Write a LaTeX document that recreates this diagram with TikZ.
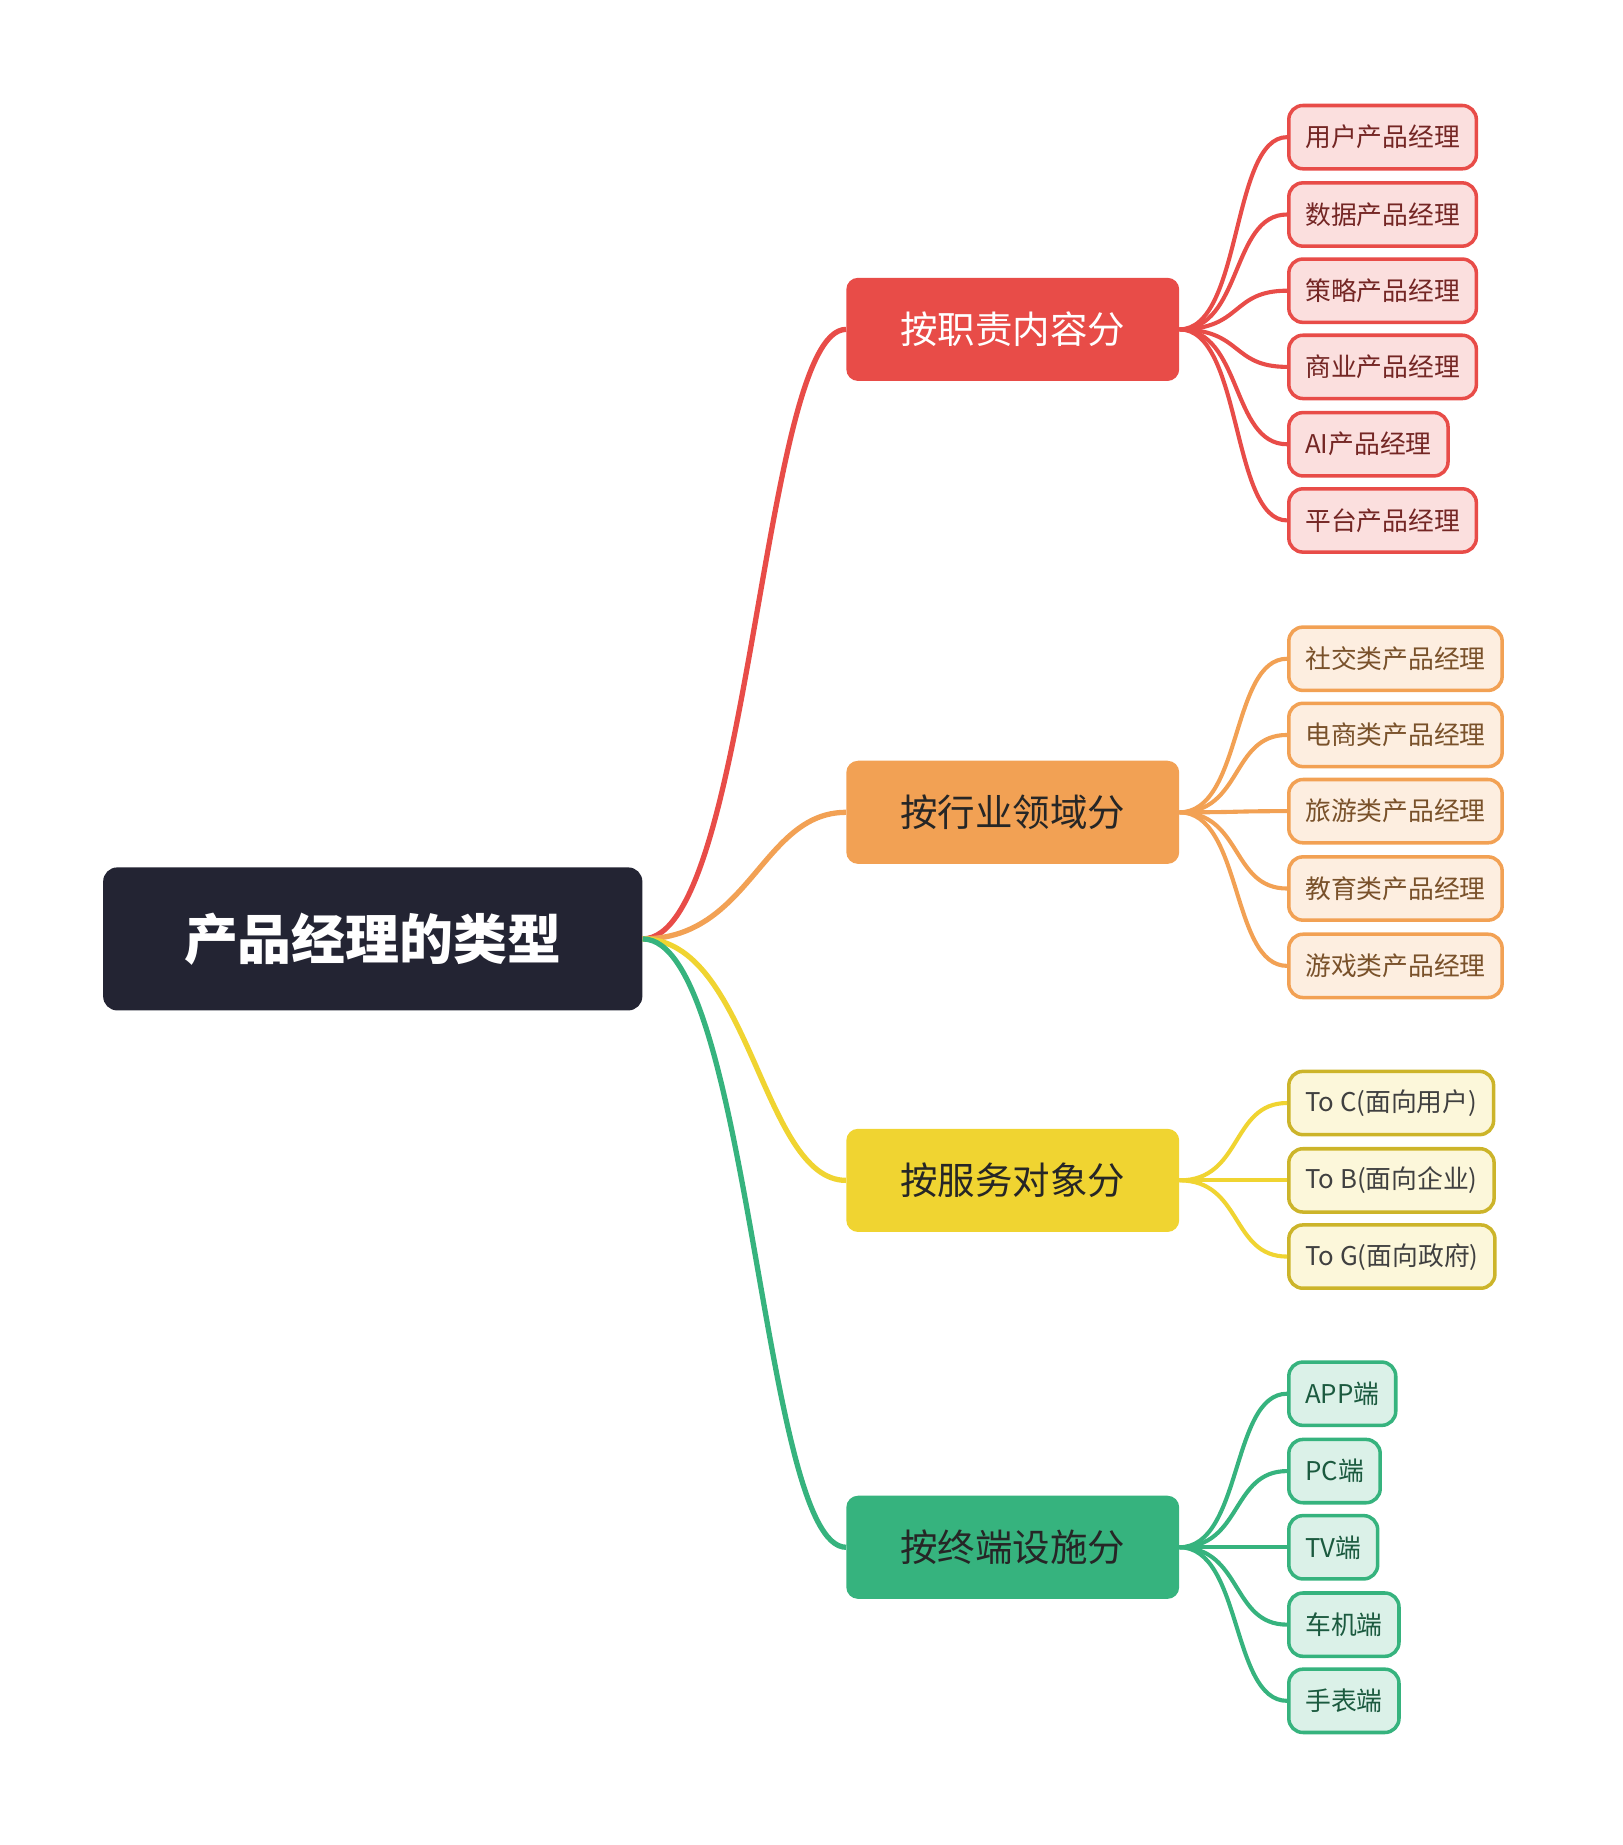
\documentclass[tikz,border=0pt]{standalone}
\usepackage{fontspec}
\setmainfont{Noto Sans CJK SC}
\usetikzlibrary{positioning}
\definecolor{cred}{HTML}{E84C48}
\definecolor{corange}{HTML}{F2A154}
\definecolor{cyellow}{HTML}{F0D431}
\definecolor{cgreen}{HTML}{36B37E}
\definecolor{croot}{HTML}{232433}
\tikzset{
  rootbox/.style={fill=croot,rounded corners=12pt,minimum width=460pt,minimum height=122pt,text=white,font=\bfseries\fontsize{46}{50}\selectfont},
  branch/.style={fill=#1,rounded corners=10pt,minimum width=284pt,minimum height=88pt,font=\fontsize{32}{36}\selectfont},
  leaf/.style={draw=#1,line width=3pt,fill=#1!18,text=#1!50!black,rounded corners=12pt,minimum height=54pt,inner xsep=14pt,anchor=west,font=\fontsize{22}{24}\selectfont},
  link/.style={draw=#1,line width=4.5pt},
}
\begin{document}
\begin{tikzpicture}[x=1pt,y=-1pt]
\useasboundingbox (0,0) rectangle (1384,1574);
\node[rootbox] (root) at (318,801) {产品经理的类型};
% level one
\node[branch=cred,text=white] (duty) at (864,281) {按职责内容分};
\node[branch=corange,text=black!85] (field) at (864,693) {按行业领域分};
\node[branch=cyellow,text=black!85] (serve) at (864,1007) {按服务对象分};
\node[branch=cgreen,text=black!85] (term) at (864,1320) {按终端设施分};
\draw[link=cred] (root.east) .. controls (640,801) and (650,281) .. (duty.west);
\draw[link=corange] (root.east) .. controls (640,801) and (650,693) .. (field.west);
\draw[link=cyellow] (root.east) .. controls (640,801) and (650,1007) .. (serve.west);
\draw[link=cgreen] (root.east) .. controls (640,801) and (650,1320) .. (term.west);
% leaves
\foreach \t/\y [count=\i] in {用户产品经理/117,数据产品经理/183,策略产品经理/248,商业产品经理/313,AI产品经理/379,平台产品经理/444}{
  \node[leaf=cred] (d\i) at (1098,\y) {\t};
  \draw[link=cred,line width=3.5pt] (duty.east) .. controls (1060,281) and (1050,\y) .. (d\i.west);
}
\foreach \t/\y [count=\i] in {社交类产品经理/562,电商类产品经理/627,旅游类产品经理/692,教育类产品经理/758,游戏类产品经理/824}{
  \node[leaf=corange] (f\i) at (1098,\y) {\t};
  \draw[link=corange,line width=3.5pt] (field.east) .. controls (1060,693) and (1050,\y) .. (f\i.west);
}
\foreach \t/\y [count=\i] in {To C(面向用户)/941,To B(面向企业)/1007,To G(面向政府)/1072}{
  \node[leaf=cyellow!85!black,fill=cyellow!18,text=black!75] (s\i) at (1098,\y) {\t};
  \draw[link=cyellow,line width=3.5pt] (serve.east) .. controls (1060,1007) and (1050,\y) .. (s\i.west);
}
\foreach \t/\y [count=\i] in {APP端/1189,PC端/1255,TV端/1320,车机端/1386,手表端/1451}{
  \node[leaf=cgreen] (t\i) at (1098,\y) {\t};
  \draw[link=cgreen,line width=3.5pt] (term.east) .. controls (1060,1320) and (1050,\y) .. (t\i.west);
}
\end{tikzpicture}
\end{document}
